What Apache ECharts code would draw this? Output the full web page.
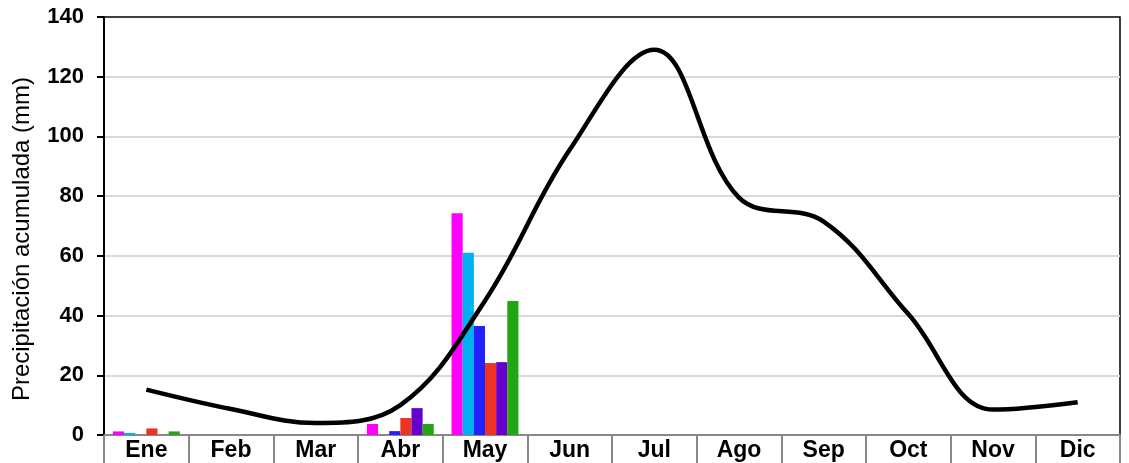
<!DOCTYPE html>
<html>
<head>
<meta charset="utf-8">
<script src="https://cdn.jsdelivr.net/npm/echarts@6/dist/echarts.min.js"></script>
<style>
  html, body { margin: 0; padding: 0; background: #fff; }
  #chart { width: 1129px; height: 463px; }
</style>
</head>
<body>
<div id="chart"></div>
<script>
const months = ['Ene', 'Feb', 'Mar', 'Abr', 'May', 'Jun', 'Jul', 'Ago', 'Sep', 'Oct', 'Nov', 'Dic'];

// six bar series (one per year / station), only Ene, Abr, May have rain
const serieA = [1.2, 0, 0, 3.7, 74.3, null, null, null, null, null, null, null];
const serieB = [0.7, 0, 0, 0, 61, null, null, null, null, null, null, null];
const serieC = [0, 0, 0, 1.3, 36.5, null, null, null, null, null, null, null];
const serieD = [2.2, 0, 0, 5.7, 24.1, null, null, null, null, null, null, null];
const serieE = [0, 0, 0, 9, 24.4, null, null, null, null, null, null, null];
const serieF = [1.2, 0, 0, 3.7, 44.9, null, null, null, null, null, null, null];

// climatological mean (black curve)
const promedio = [15.2, 8.7, 4, 10, 45, 95.5, 129, 79.5, 71.5, 40.5, 8.5, 11];

const barColors = ['#ff00ff', '#00b0f0', '#2222ff', '#ee3324', '#6600cc', '#22a612'];
const barData = [serieA, serieB, serieC, serieD, serieE, serieF];

const chart = echarts.init(document.getElementById('chart'));
const font = 'Liberation Sans, Arial, sans-serif';

const series = barData.map((d, i) => ({
  type: 'bar',
  data: d,
  barGap: '0%',
  barCategoryGap: '21%',
  itemStyle: { color: barColors[i] },
  z: 2
}));

series.push({
  type: 'line',
  data: promedio,
  smooth: 0.38,
  symbol: 'none',
  lineStyle: { color: '#000', width: 4.5 },
  z: 5
});

chart.setOption({
  animation: false,
  grid: {
    left: 104, right: 9, top: 17, bottom: 28,
    show: true, borderColor: '#000', borderWidth: 1.5
  },
  xAxis: {
    type: 'category',
    data: months,
    axisLine: { show: true, lineStyle: { color: '#888', width: 2 } },
    axisTick: { show: true, length: 30, lineStyle: { color: '#888', width: 2 } },
    axisLabel: { color: '#000', fontWeight: 'bold', fontSize: 23, fontFamily: font, margin: 4 }
  },
  yAxis: {
    type: 'value',
    min: 0, max: 140, interval: 20,
    name: 'Precipitación acumulada (mm)',
    nameLocation: 'middle',
    nameGap: 70,
    nameTextStyle: { color: '#000', fontSize: 24, fontFamily: font, padding: [0, 26, 0, 0] },
    axisLine: { show: true, lineStyle: { color: '#000', width: 2 } },
    axisTick: { show: true, length: 7, lineStyle: { color: '#000', width: 2 } },
    axisLabel: { color: '#000', fontWeight: 'bold', fontSize: 22, fontFamily: font, margin: 20 },
    splitLine: { showMinLine: false, showMaxLine: false, lineStyle: { color: '#d9d9d9', width: 2 } }
  },
  series: series
});
</script>
</body>
</html>
